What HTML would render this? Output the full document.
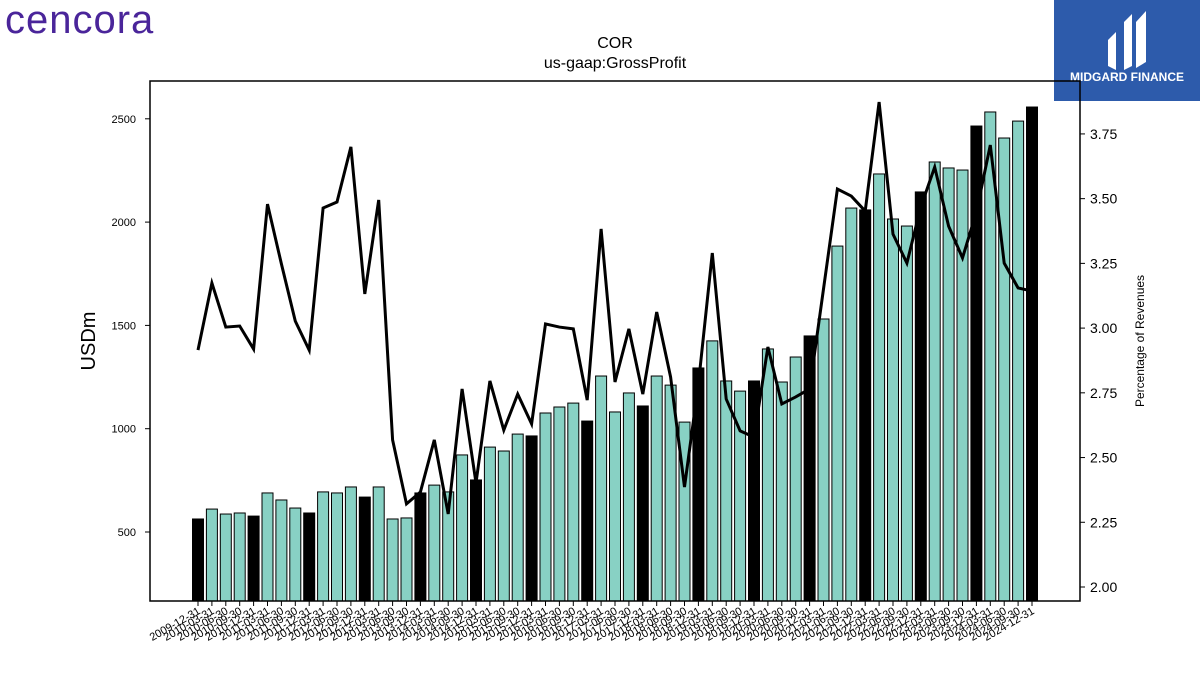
<!DOCTYPE html>
<html><head><meta charset="utf-8"><style>
body{margin:0;background:#fff;width:1200px;height:675px;overflow:hidden;font-family:"Liberation Sans",sans-serif;}
</style></head><body>
<svg id="chart" width="1200" height="675" xmlns="http://www.w3.org/2000/svg">
<text x="5" y="33" font-size="40" fill="#4a259a" font-family="Liberation Sans, sans-serif" letter-spacing="1">cencora</text>
<g>
<rect x="1054" y="0" width="146" height="101" fill="#2d5bab"/>
<path d="M1108 40 L1116 32 L1116 70 L1108 66 Z M1124 22 L1132 14 L1132 66 L1124 70 Z M1136 22 L1146 11 L1146 62 L1136 68 Z" fill="#fff"/>
<text x="1127" y="81" font-size="12" font-weight="bold" fill="#fff" text-anchor="middle">MIDGARD FINANCE</text>
</g>
<text x="615" y="48" font-size="16" text-anchor="middle">COR</text>
<text x="615" y="68" font-size="16" text-anchor="middle">us-gaap:GrossProfit</text>
<g id="bars"></g><g id="line"></g><g id="axes"></g>
<rect x="150" y="81" width="930" height="520" fill="none" stroke="#000" stroke-width="1.5"/>
<text transform="translate(95,341) rotate(-90)" font-size="20" text-anchor="middle">USDm</text>
<text transform="translate(1144,341) rotate(-90)" font-size="12" text-anchor="middle">Percentage of Revenues</text>
</svg>
<script>
const years=[2009,2010,2011,2012,2013,2014,2015,2016,2017,2018,2019,2020,2021,2022,2023,2024];
const profit=[563,611,587,592,577,689,655,616,592,694,689,718,669,718,563,568,689,727,694,873,752,911,892,974,965,1076,1105,1124,1037,1255,1081,1173,1110,1255,1211,1032,1294,1425,1231,1182,1231,1386,1226,1347,1449,1531,1884,2068,2059,2233,2015,1981,2146,2291,2262,2252,2465,2533,2407,2489,2557];
const pct=[2.915,3.174,3.004,3.008,2.919,3.479,3.248,3.027,2.915,3.464,3.487,3.70,3.132,3.495,2.568,2.321,2.367,2.568,2.282,2.765,2.402,2.796,2.606,2.745,2.630,3.016,3.004,2.997,2.722,3.383,2.792,2.997,2.745,3.062,2.811,2.386,2.784,3.290,2.726,2.603,2.579,2.927,2.707,2.734,2.765,3.151,3.537,3.510,3.452,3.873,3.363,3.251,3.468,3.622,3.394,3.271,3.448,3.707,3.251,3.155,3.143];
const leftTicks=[500,1000,1500,2000,2500];
const rightTicks=[2.00,2.25,2.50,2.75,3.00,3.25,3.50,3.75];
const ends=["12-31","03-31","06-30","09-30"];
const labels=profit.map((_,i)=>{const q=i%4;const y=2009+Math.floor((i+3)/4);return y+"-"+ends[q];});
const NS="http://www.w3.org/2000/svg";
const yL=v=>532-(v-500)*0.2066;
const yR=v=>587-(v-2)*258.9;
const xB=i=>198+i*(1032-198)/(profit.length-1);
function mk(t,a,p){const e=document.createElementNS(NS,t);for(const k in a)e.setAttribute(k,a[k]);p.appendChild(e);return e;}
const gb=document.getElementById('bars'),gl=document.getElementById('line'),ga=document.getElementById('axes');
profit.forEach((v,i)=>{
  const r=mk('rect',{x:xB(i)-5.5,y:yL(v),width:11,height:601-yL(v),fill:i%4===0?'#000':'#88d1c4',stroke:'#000','stroke-width':1},gb);
  
  
  const t=mk('line',{x1:xB(i),x2:xB(i),y1:601,y2:606,stroke:'#000'},ga);
  const tx=mk('text',{transform:`translate(${xB(i)+3},${613}) rotate(-30)`,'font-size':11,'text-anchor':'end'},ga);
  tx.textContent=labels[i];
  
  
});
const pl=mk('polyline',{points:pct.map((v,i)=>xB(i)+','+yR(v)).join(' '),fill:'none',stroke:'#000','stroke-width':3},gl);


leftTicks.forEach(v=>{
  mk('line',{x1:145,x2:150,y1:yL(v),y2:yL(v),stroke:'#000'},ga);
  const t=mk('text',{x:136,y:yL(v)+4,'font-size':11,'text-anchor':'end'},ga);t.textContent=v;
  
  
});
rightTicks.forEach(v=>{
  mk('line',{x1:1080,x2:1085,y1:yR(v),y2:yR(v),stroke:'#000'},ga);
  const t=mk('text',{x:1090,y:yR(v)+5,'font-size':14},ga);t.textContent=v.toFixed(2);
  
  
});
</script>
</body></html>
